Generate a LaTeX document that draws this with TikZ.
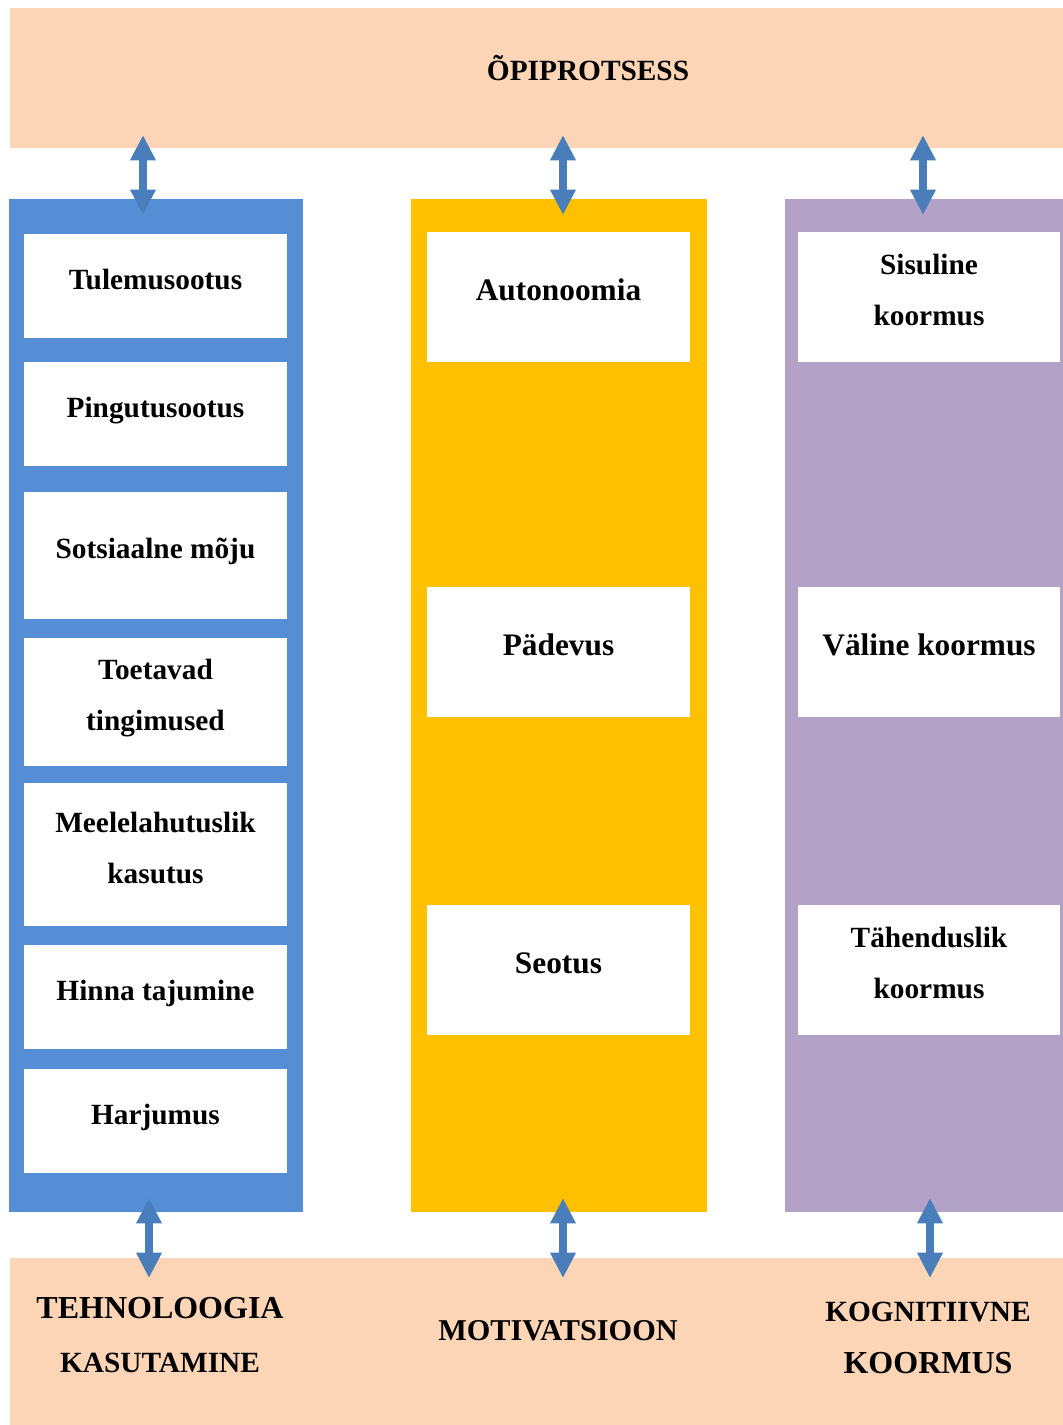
\documentclass[tikz,border=0pt]{standalone}
\usepackage{fontspec}
\setmainfont{Liberation Serif}
\usepackage{xcolor}
\usetikzlibrary{arrows.meta,positioning}
\definecolor{cBand}{HTML}{FBD5B5}
\definecolor{cTech}{HTML}{558ED5}
\definecolor{cMot}{HTML}{FFC000}
\definecolor{cKog}{HTML}{B3A2C7}
\definecolor{cArr}{HTML}{4A7EBB}
\tikzset{
  px/.style 2 args = {minimum width=#1*0.75pt, minimum height=#2*0.75pt},
  band/.style   = {rectangle, fill=cBand, inner sep=0pt},
  col/.style    = {rectangle, inner sep=0pt},
  cell/.style   = {rectangle, fill=white, inner sep=0pt, align=center, text depth=10.5pt,
                   font=\bfseries\fontsize{22}{38}\selectfont},
  bigcell/.style = {cell, font=\bfseries\fontsize{23.5}{39}\selectfont},
  head/.style   = {align=center, inner sep=0pt,
                   font=\bfseries\fontsize{22}{40}\selectfont},
  biarrow/.style = {{Triangle[length=19pt,width=18pt]}-{Triangle[length=19pt,width=18pt]},
                    draw=cArr, line width=6pt},
}
\begin{document}
\begin{tikzpicture}[x=0.75pt, y=-0.75pt]
  \useasboundingbox (0,0) rectangle (1063,1425);

  % bands
  \node[band, px={1053}{140}] (proc) at (536.5,78) {};
  \node[band, px={1053}{167}] (base) at (536.5,1341.5) {};
  \node[head] (proclab) at (588,68) {ÕPIPROTSESS};

  % columns
  \node[col, fill=cTech, px={294}{1013}] (tech) at (156,705.5) {};
  \node[col, fill=cMot,  px={296}{1013}] (mot)  at (559,705.5) {};
  \node[col, fill=cKog,  px={278}{1013}] (kog)  at (924,705.5) {};

  % technology cells
  \node[cell, px={263}{104}] (t1) at (155.5,286)   {Tulemusootus};
  \node[cell, px={263}{104}] (t2) at (155.5,414)   {Pingutusootus};
  \node[cell, px={263}{127}] (t3) at (155.5,555.5) {Sotsiaalne mõju};
  \node[cell, px={263}{128}] (t4) at (155.5,702)   {Toetavad\\tingimused};
  \node[cell, px={263}{143}] (t5) at (155.5,854.5) {Meelelahutuslik\\kasutus};
  \node[cell, px={263}{104}] (t6) at (155.5,997)   {Hinna tajumine};
  \node[cell, px={263}{104}] (t7) at (155.5,1121)  {Harjumus};

  % motivation cells
  \node[bigcell, px={263}{130}] (m1) at (558.5,297) {Autonoomia};
  \node[bigcell, px={263}{130}] (m2) at (558.5,652) {Pädevus};
  \node[bigcell, px={263}{130}] (m3) at (558.5,970) {Seotus};

  % cognitive load cells
  \node[cell, px={262}{130}] (k1) at (929,297) {Sisuline\\koormus};
  \node[cell, px={262}{130}, font=\bfseries\fontsize{23.5}{39}\selectfont] (k2) at (929,652) {Väline koormus};
  \node[cell, px={262}{130}] (k3) at (929,970) {Tähenduslik\\koormus};

  % bottom labels
  \node[head, font=\bfseries\fontsize{24}{40.5}\selectfont] (techlab) at (160,1335)
    {TEHNOLOOGIA\\\fontsize{22}{40.5}\selectfont KASUTAMINE};
  \node[head, font=\bfseries\fontsize{22.7}{40}\selectfont] (motlab) at (558,1331) {MOTIVATSIOON};
  \node[head, font=\bfseries\fontsize{22}{39}\selectfont] (koglab) at (928,1338)
    {KOGNITIIVNE\\\fontsize{24}{39}\selectfont KOORMUS};

  % arrow ends
  \coordinate (a1) at (143,135);  \coordinate (b1) at (143,215);
  \coordinate (a2) at (563,135);  \coordinate (b2) at (563,215);
  \coordinate (a3) at (923,135);  \coordinate (b3) at (923,215);
  \coordinate (c1) at (149,1198); \coordinate (d1) at (149,1278);
  \coordinate (c2) at (563,1198); \coordinate (d2) at (563,1278);
  \coordinate (c3) at (930,1198); \coordinate (d3) at (930,1278);

  \draw[biarrow] (a1) -- (b1);
  \draw[biarrow] (a2) -- (b2);
  \draw[biarrow] (a3) -- (b3);
  \draw[biarrow] (c1) -- (d1);
  \draw[biarrow] (c2) -- (d2);
  \draw[biarrow] (c3) -- (d3);
\end{tikzpicture}
\end{document}
